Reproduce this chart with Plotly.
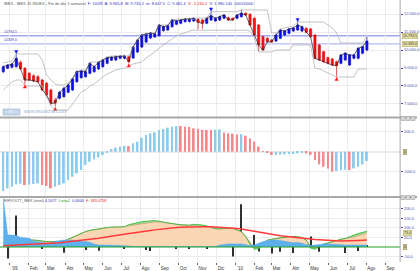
import plotly.graph_objects as go
import pandas as pd

# ---------------- data ----------------
week_start = "2008-12-22"
n_weeks = 85
weeks = pd.date_range(week_start, periods=n_weeks, freq="7D")

open_ = [8794, 8983, 9039, 9072, 9317, 8983, 8706, 8572, 8516, 8333, 8150, 7778, 7222, 7316, 7405, 7650, 7778, 8239, 8461, 8516,
         8706, 8794, 8944, 9072, 9261, 9428, 9444, 9539, 9539, 9628, 9556, 9889, 10167, 10444, 10667, 10722, 10794, 11072, 11111, 11294,
         11428, 11483, 11572, 11580, 11611, 11706, 11667, 11483, 11667, 11611, 11667, 11761, 11794, 11761, 11761, 11850, 12039, 11983, 11761, 11389,
         10739, 10650, 10556, 10500, 10650, 10833, 10928, 11056, 11111, 11056, 11206, 11167, 10833, 10278, 9905, 9572, 9500, 9350, 9261, 9444,
         9167, 9539, 9539, 9817, 10000]
high = [9150, 9220, 9280, 9761, 9420, 9050, 8780, 8650, 8600, 8400, 8220, 7850, 7350, 7720, 7950, 8130, 8450, 8870, 8900, 8870,
        9330, 9140, 9380, 9510, 9640, 9660, 9690, 9720, 9730, 9690, 10230, 10620, 10900, 10950, 11000, 10950, 11450, 11360, 11410, 11730,
        11670, 11720, 11780, 11790, 11820, 11770, 11730, 11820, 12128, 11820, 11910, 12000, 11850, 11820, 12000, 12222, 12100, 12040, 11820, 11450,
        10800, 10720, 10610, 10900, 11170, 11110, 11220, 11280, 11539, 11350, 11260, 11220, 10890, 10340, 9960, 9630, 9560, 9410, 9780, 9880,
        9780, 9780, 10160, 10240, 10739]
low = [8720, 8930, 8980, 9030, 8900, 8094, 8280, 8220, 8180, 7720, 7440, 6944, 6850, 7250, 7350, 7600, 7720, 8180, 8400, 8460,
       8650, 8740, 8890, 9020, 9210, 9380, 9390, 9490, 9480, 9261, 9500, 9830, 10110, 10390, 10610, 10670, 10740, 11020, 11060, 11240,
       11380, 11430, 11520, 11530, 11560, 11167, 11167, 11430, 11610, 11560, 11610, 11710, 11610, 11610, 11710, 11800, 11890, 11330, 10780, 9905,
       9940, 10400, 10389, 10440, 10600, 10780, 10870, 11000, 11060, 11000, 10930, 10680, 9480, 9390, 9290, 9200, 9110, 8516, 9200, 9390,
       9110, 9480, 9480, 9760, 9940]
close = [9072, 9167, 9222, 9539, 8944, 8333, 8333, 8278, 8239, 7778, 7500, 7039, 7055, 7650, 7872, 8056, 8389, 8794, 8833, 8794,
         9261, 9072, 9317, 9444, 9572, 9594, 9628, 9667, 9667, 9350, 10167, 10556, 10833, 10889, 10944, 10889, 11389, 11294, 11350, 11667,
         11611, 11667, 11722, 11720, 11761, 11539, 11483, 11761, 11906, 11761, 11850, 11944, 11667, 11667, 11944, 12039, 11944, 11389, 10833, 10278,
         10000, 10461, 10444, 10833, 11111, 11056, 11167, 11222, 11389, 11294, 10983, 10739, 9539, 9444, 9350, 9261, 9167, 9128, 9722, 9817,
         9722, 9722, 10094, 10183, 10500]

band_upper = [9278, 9333, 9389, 9778, 9778, 9778, 9778, 9778, 9778, 9444, 8611, 8333, 8111, 8056, 8056, 8167, 8444, 8778, 8889, 8889,
              9333, 9333, 9333, 9444, 9611, 9667, 9667, 9667, 9667, 9667, 10167, 10556, 10833, 10889, 10944, 10944, 11389, 11389, 11389, 11667,
              11722, 11722, 11722, 11722, 11722, 11778, 11778, 11778, 12130, 12130, 12130, 12130, 12130, 12130, 12130, 12222, 12222, 12222, 12222, 12222,
              12222, 12222, 10944, 10944, 11170, 11222, 11278, 11333, 11556, 11556, 11556, 11556, 11556, 11556, 11556, 11389, 11222, 10944, 10389, 10389,
              10389, 10389, 10389, 10389, 10778]
band_lower = [7778, 8000, 8222, 8333, 8333, 8000, 8000, 8000, 8000, 8000, 7444, 6889, 6667, 6667, 6667, 6667, 7000, 7333, 7667, 7778,
              8000, 8111, 8333, 8500, 8667, 8778, 8889, 8944, 9000, 9111, 9222, 9278, 9333, 9556, 9722, 9889, 10111, 10278, 10444, 10611,
              10778, 10889, 10944, 11056, 11111, 11100, 11100, 11100, 11100, 11100, 11100, 11100, 11100, 11100, 11100, 11100, 11100, 11050, 10667, 9889,
              9889, 9889, 9889, 10000, 10000, 10000, 10000, 10278, 10278, 10278, 10278, 10278, 9000, 8944, 8833, 8722, 8611, 8500, 8500, 8500,
              8500, 8500, 8944, 8944, 8944]

level_values = [10794.5, 10339.0]
level_labels = ["10794,5", "10339,0"]
level_box_labels = ["10.794,5", "10.339,0"]

price_ticks = [7000, 8000, 9000, 10000, 11000, 12000]
price_tick_text = ["7.000,0", "8.000,0", "9.000,0", "10.000,0", "11.000,0", "12.000,0"]

up_arrow_idx = [5, 12, 29, 77]
down_arrow_idx = [3, 48, 68]

hist = [-983, -917, -875, -817, -800, -833, -825, -810, -792, -833, -858, -917, -875, -833, -792, -708, -625, -542, -458, -333,
        -250, -192, -142, -83, -25, 67, 100, 125, 150, 142, 208, 250, 350, 417, 458, 483, 542, 567, 600, 625,
        642, 640, 625, 617, 583, 567, 550, 542, 542, 550, 560, 483, 458, 450, 433, 440, 400, 333, 250, 125,
        17, -25, -83, -80, -75, -67, -60, -55, -42, -25, -42, -83, -208, -317, -375, -417, -500, -483, -458, -450,
        -458, -417, -375, -317, -233]
hist_dir = "bbbbbrbbbrrr" + "b" * 17 + "r" + "b" * 11 + "r" * 7 + "r" + "bb" + "rrrr" + "b" + "r" * 7 + "b" * 7 + "r" * 7 + "bbb" + "r" + "bbbb"
hist_ticks = [500, -500]
hist_tick_text = ["500,0", "-500,0"]

vol_main = [20, 25, 28, 30, 32, 34, 36, 36, 34, 30, 28, 28, 27, 26, 30, 40, 50, 62, 72, 80,
            86, 90, 95, 99, 101, 103, 104, 105, 105, 110, 114, 118, 122, 125, 128, 131, 130, 128, 125, 122,
            118, 115, 114, 113, 112, 111, 108, 105, 100, 95, 94, 96, 99, 97, 90, 80, 55, 28, -5, 2,
            20, 36, 40, 44, 47, 50, 54, 55, 54, 50, 36, 2, -5, 5, 15, 21, 28, 36, 40, 44,
            47, 52, 60, 66, 73]
vol_green = [20, 25, 28, 30, 32, 34, 36, 36, 34, 30, 28, 28, 27, 26, 30, 40, 50, 62, 72, 80,
             86, 90, 95, 99, 101, 103, 104, 105, 105, 116, 122, 127, 131, 134, 136, 137, 134, 128, 125, 122,
             118, 115, 114, 113, 118, 117, 114, 110, 104, 95, 94, 96, 99, 97, 90, 80, 55, 15, -12, -8,
             10, 36, 40, 44, 47, 50, 54, 55, 54, 50, 36, -6, -12, 0, 15, 21, 28, 36, 40, 44,
             55, 62, 70, 76, 82]
vol_avg = [7, 8, 9, 10, 11, 12, 13, 14, 15, 16, 17, 18, 20, 22, 25, 28, 30, 33, 35, 38,
           40, 43, 45, 49, 52, 56, 59, 63, 66, 70, 73, 77, 80, 83, 86, 89, 92, 95, 97, 99,
           101, 102, 103, 104, 105, 105, 105, 105, 105, 104, 103, 101, 100, 98, 96, 94, 90, 86, 82, 78,
           74, 70, 64, 61, 58, 56, 53, 51, 49, 46, 43, 41, 39, 37, 35, 34, 33, 32, 31, 31,
           32, 33, 34, 35, 36]
vol_blue = [255, 62, 62, 60, 50, 47, 45, 30, 28, 25, 20, 22, 30, 34, 36, 36, 36, 34, 30, 28,
            25, 15, 10, 10, 10, 10, 10, 8, 6, 4, 2, 2, 2, 2, 2, 2, 2, 2, 2, 2,
            2, 2, 2, 2, 2, 2, 2, 2, 2, 2, 10, 14, 16, 16, 16, 16, 12, 8, 10, 20,
            28, 32, 36, 36, 34, 30, 26, 22, 24, 20, 12, 8, 10, 14, 16, 16, 14, 12, 10, 10,
            10, 10, 10, 10, 10]
vol_spikes = [0, -60, 20, 163, 0, 0, 0, 0, 15, -10, 0, 0, 20, 0, -30, 0, 15, 47, 0, -15,
              10, 0, -20, 0, 0, 15, 47, 0, -10, 0, 15, 0, 0, -16, -21, 0, 10, 0, 0, 0,
              -10, 12, 0, -10, 0, 15, 0, -8, 0, 0, 20, 0, 0, -50, 0, 222, 0, 0, 62, -24,
              0, 0, -34, 0, -25, 0, 0, -31, 0, 0, 0, 54, 0, -25, 0, 0, 0, 31, 0, -31,
              0, 0, -21, 0, 10]
vol_ticks = [200, 150, 100, 50, -50]
vol_tick_text = ["200,0", "150,0", "100,0", "50,0", "-50,0"]

month_ticks = pd.date_range("2009-01-01", "2010-09-01", freq="MS")
month_labels = ["'09", "Feb", "Mar", "Abr", "May", "Jun", "Jul", "Ago", "Sep", "Oct", "Nov", "Dic",
                "'10", "Feb", "Mar", "Abr", "May", "Jun", "Jul", "Ago", "Sep"]

# ---------------- geometry helpers ----------------
W, H = 420, 271
PLOT_R = 403
px_per_day = 4.36 / 7.0
x_start = weeks[0] - pd.Timedelta(days=3.3 / px_per_day)
x_end = weeks[0] + pd.Timedelta(days=(PLOT_R - 3.3) / px_per_day)


def py(y):
    return 1 - y / H


def pxp(x):
    return x / W


FONT = "Liberation Sans, Arial, sans-serif"
AXC = "#4a4aa8"

fig = go.Figure()

# ---------------- main panel ----------------
fig.add_trace(go.Scatter(x=weeks, y=band_upper, mode="lines", line=dict(color="#b4b4b4", width=0.8),
                         yaxis="y", hoverinfo="skip"))
fig.add_trace(go.Scatter(x=weeks, y=band_lower, mode="lines", line=dict(color="#b4b4b4", width=0.8),
                         yaxis="y", hoverinfo="skip"))
fig.add_trace(go.Candlestick(x=weeks, open=open_, high=high, low=low, close=close, yaxis="y",
                             increasing=dict(line=dict(color="#1010c0", width=0.7), fillcolor="#0a0aff"),
                             decreasing=dict(line=dict(color="#d01010", width=0.7), fillcolor="#ff1010"),
                             whiskerwidth=0))
fig.add_trace(go.Scatter(x=weeks, y=close, mode="lines", line=dict(color="#222222", width=0.7),
                         yaxis="y", hoverinfo="skip"))
fig.add_trace(go.Scatter(x=[weeks[i] for i in up_arrow_idx], y=[low[i] for i in up_arrow_idx],
                         mode="markers", marker=dict(symbol="arrow-up", size=4, color="#ff2020",
                                                     line=dict(width=0)), yaxis="y"))
fig.add_trace(go.Scatter(x=[weeks[i] for i in down_arrow_idx], y=[high[i] for i in down_arrow_idx],
                         mode="markers", marker=dict(symbol="arrow-down", size=4, color="#2020ff",
                                                     line=dict(width=0)), yaxis="y"))

# ---------------- histogram panel ----------------
hist_colors = ["#8ccbec" if c == "b" else "#f4888c" for c in hist_dir]
fig.add_trace(go.Bar(x=weeks, y=hist, marker=dict(color=hist_colors, line=dict(width=0)),
                     width=3.0 * 86400000, yaxis="y2"))

# ---------------- volatility panel ----------------
fig.add_trace(go.Scatter(x=weeks, y=vol_main, mode="lines", line=dict(color="#c8a07c", width=0.8),
                         fill="tozeroy", fillcolor="#fbd6b4", yaxis="y3"))
fig.add_trace(go.Scatter(x=weeks, y=vol_green, mode="lines", line=dict(color="#3cb83c", width=0.9),
                         fill="tonexty", fillcolor="#8ee68e", yaxis="y3"))
fig.add_trace(go.Scatter(x=weeks, y=vol_blue, mode="lines", line=dict(color="#4aa4e6", width=0.5),
                         fill="tozeroy", fillcolor="#5cb0ec", yaxis="y3"))
fig.add_trace(go.Scatter(x=[x_start, x_end], y=[0, 0], mode="lines", line=dict(color="#20a020", width=1),
                         yaxis="y3", hoverinfo="skip"))
fig.add_trace(go.Bar(x=weeks, y=vol_spikes, marker=dict(color="#303030", line=dict(width=0)),
                     width=1.6 * 86400000, yaxis="y3"))
fig.add_trace(go.Scatter(x=weeks, y=vol_avg, mode="lines", line=dict(color="#ff3a3a", width=1.5),
                         yaxis="y3"))

# ---------------- layout ----------------
grid = "#ececec"
fig.update_layout(
    width=W, height=H, margin=dict(l=0, r=0, t=0, b=0),
    paper_bgcolor="white", plot_bgcolor="white", showlegend=False, barmode="overlay",
    font=dict(family=FONT, size=4.5, color="#333333"),
    xaxis=dict(domain=[0, PLOT_R / W], type="date", range=[x_start, x_end], anchor="y3",
               tickvals=month_ticks, ticktext=month_labels, ticklabelshift=5,
               tickfont=dict(size=4.5, color="#333333"), ticks="outside", ticklen=2, tickcolor="#666",
               showgrid=True, gridcolor=grid, gridwidth=1, zeroline=False, showline=False,
               rangeslider=dict(visible=False), fixedrange=True),
    yaxis=dict(domain=[py(117), py(0)], range=[12000 - (117 - 14) * 55.56, 12000 + 14 * 55.56],
               side="right", anchor="x", tickvals=price_ticks, ticktext=price_tick_text,
               tickfont=dict(size=4, color=AXC), ticks="outside", ticklen=2, tickcolor=AXC,
               showgrid=True, gridcolor=grid, zeroline=False),
    yaxis2=dict(domain=[py(196), py(119)], range=[-(196 - 151.7) * 25, (151.7 - 119) * 25],
                side="right", anchor="x", tickvals=hist_ticks, ticktext=hist_tick_text,
                tickfont=dict(size=4, color=AXC), ticks="outside", ticklen=2, tickcolor=AXC,
                showgrid=True, gridcolor=grid, zeroline=True, zerolinecolor=grid),
    yaxis3=dict(domain=[py(262), py(198)], range=[-(262 - 247) * 5.195, (247 - 198) * 5.195],
                side="right", anchor="x", tickvals=vol_ticks, ticktext=vol_tick_text,
                tickfont=dict(size=4, color=AXC), ticks="outside", ticklen=2, tickcolor=AXC,
                showgrid=True, gridcolor=grid, zeroline=False),
)

shapes = []
# horizontal level lines
for v, wdt in zip(level_values, [1.6, 1.0]):
    shapes.append(dict(type="line", xref="paper", x0=0, x1=PLOT_R / W, yref="y", y0=v, y1=v,
                       line=dict(color="#a4a8f4", width=wdt), layer="below"))
# separators
for yy in [117.5, 197.0]:
    shapes.append(dict(type="line", xref="paper", x0=0, x1=1, yref="paper", y0=py(yy), y1=py(yy),
                       line=dict(color="#a8a8a8", width=2)))
# right border
shapes.append(dict(type="line", xref="paper", x0=PLOT_R / W, x1=PLOT_R / W, yref="paper", y0=py(262), y1=1,
                   line=dict(color="#a8a8a8", width=1)))
# buttons at separators
for yy in [118.5, 197.5]:
    for k in range(3):
        shapes.append(dict(type="rect", xref="paper", yref="paper",
                           x0=pxp(404 + 5 * k), x1=pxp(408 + 5 * k), y0=py(yy + 2), y1=py(yy - 2),
                           fillcolor="#d8d8d8", line=dict(color="#909090", width=0.5)))
# watermark logo box
shapes.append(dict(type="rect", xref="paper", yref="paper", x0=pxp(3), x1=pxp(20), y0=py(115), y1=py(109),
                   fillcolor="#c6d8ec", line=dict(color="#8aa6c8", width=0.5)))
fig.update_layout(shapes=shapes)

ann = []
ann.append(dict(xref="paper", yref="paper", x=pxp(2), y=py(3.5), xanchor="left", yanchor="middle",
                showarrow=False, font=dict(size=4, family=FONT),
                text="<span style='color:#555'>IBEX - IBEX 35 INDEX - Fin de día 1 semanal</span>"
                     "<span style='color:#3030c0'>  F: 10/28  A: 9.965,8  M: 9.733,2  m: 8.647,5  C: 9.465,4 </span>"
                     "<span style='color:#e02020'> V: -5.240,2 </span>"
                     "<span style='color:#3030c0'> V: 1.980.140  0001/0000</span>"))
for v, lab in zip(level_values, level_labels):
    ann.append(dict(xref="paper", yref="y", x=pxp(2), y=v, xanchor="left", yanchor="bottom",
                    showarrow=False, text=lab, font=dict(size=3.6, color="#4040b0"), yshift=0))
for v, lab in zip(level_values, level_box_labels):
    ann.append(dict(xref="paper", yref="y", x=pxp(405), y=v, xanchor="left", yanchor="middle",
                    showarrow=False, text=lab, font=dict(size=3.6, color="#333"),
                    bgcolor="#e6e2a4", bordercolor="#a8a060", borderwidth=0.5, borderpad=0.5))
ann.append(dict(xref="paper", yref="paper", x=pxp(22), y=py(112), xanchor="left", yanchor="middle",
                showarrow=False, text="www.visualchart.com", font=dict(size=4.6, color="#9ab4d4")))
ann.append(dict(xref="paper", yref="paper", x=pxp(11.5), y=py(112), xanchor="center", yanchor="middle",
                showarrow=False, text="VC", font=dict(size=3, color="#ffffff")))
ann.append(dict(xref="paper", yref="y2", x=pxp(406), y=0, xanchor="left", yanchor="middle",
                showarrow=False, text="0", font=dict(size=3.6, color="#333"),
                bgcolor="#cfcb90", bordercolor="#908850", borderwidth=0.5, borderpad=0.5))
ann.append(dict(xref="paper", yref="y3", x=pxp(406), y=0, xanchor="left", yanchor="middle",
                showarrow=False, text="0", font=dict(size=3.6, color="#333"),
                bgcolor="#cfcb90", bordercolor="#908850", borderwidth=0.5, borderpad=0.5))
ann.append(dict(xref="paper", yref="y3", x=pxp(406), y=vol_main[-1], xanchor="left", yanchor="middle",
                showarrow=False, text="73,0", font=dict(size=3.6, color="#333"),
                bgcolor="#e6e2a4", bordercolor="#a8a060", borderwidth=0.5, borderpad=0.5))
ann.append(dict(xref="paper", yref="paper", x=pxp(2), y=py(200.5), xanchor="left", yanchor="middle",
                showarrow=False, font=dict(size=3.8, family=FONT),
                text="<span style='color:#555'>EIFVOLTT_IBEX (nivel)</span>"
                     "<span style='color:#3030c0'> 4,5077 </span>"
                     "<span style='color:#20a020'> Linea2 </span>"
                     "<span style='color:#3030c0'> 0,0000 </span>"
                     "<span style='color:#e02020'> F: 183,0758</span>"))
fig.update_layout(annotations=ann)

fig.write_html("out.html")
